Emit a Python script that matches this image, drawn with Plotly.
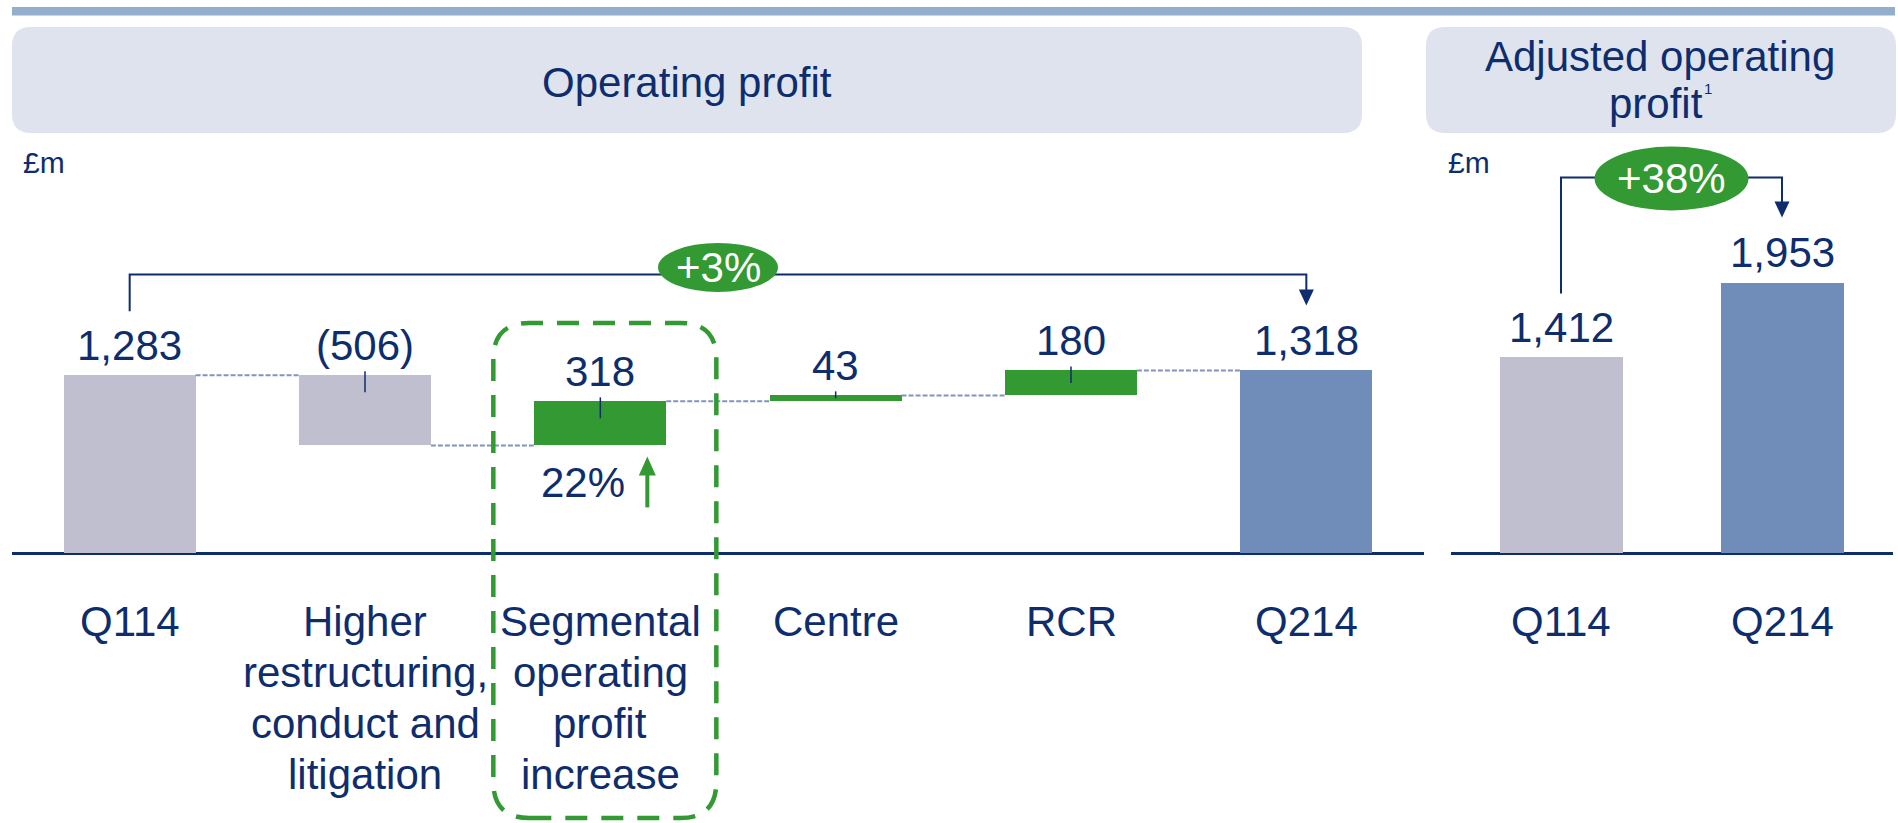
import plotly.graph_objects as go

W, H = 1898, 823

# ---------------- data ----------------
categories = ["Q114", "Higher\nrestructuring,\nconduct and\nlitigation",
              "Segmental\noperating\nprofit\nincrease", "Centre", "RCR", "Q214"]
measures = ["absolute", "relative", "relative", "relative", "relative", "total"]
values = [1283, -506, 318, 43, 180, 1318]
bar_colors = ["#C0BFD0", "#C0BFD0", "#339933", "#339933", "#339933", "#6F8DB8"]

adj_categories = ["Q114", "Q214"]
adj_values = [1412, 1953]
adj_colors = ["#C0BFD0", "#6F8DB8"]

change_total = "+3%"
change_adj = "+38%"
segmental_growth = "22%"
highlight_index = 2
title_left = "Operating profit"
title_right = ["Adjusted operating", "profit"]
footnote_mark = "1"
unit_label = "£m"

# ---------------- style ----------------
NAVY = "#0E2D6D"
GREEN = "#339933"
FONT = "Liberation Sans, Arial, sans-serif"
FS = 42
SCALE = 0.1385          # px per £m
ZERO_PX = 553
BAR_W = 0.56
y_range = [-(H - ZERO_PX) / SCALE, ZERO_PX / SCALE]


def px_to_val(p):
    return p / SCALE


def fmt(v):
    s = f"{abs(v):,}"
    return f"({s})" if v < 0 else s


def px(x):
    return x / W


def py(y):
    return 1 - y / H


# waterfall geometry
bases, heights, tops, levels = [], [], [], []
running = 0
for m, v in zip(measures, values):
    if m in ("absolute", "total"):
        base, h, running = 0, v, v
    else:
        base, h = min(running, running + v), abs(v)
        running += v
    bases.append(base)
    heights.append(h)
    tops.append(base + h)
    levels.append(running)

fig = go.Figure()
fig.add_trace(go.Bar(x=list(range(len(categories))), y=heights, base=bases,
                     marker=dict(color=bar_colors, line=dict(width=0)),
                     width=BAR_W, xaxis="x", yaxis="y", hoverinfo="skip"))
fig.add_trace(go.Bar(x=list(range(len(adj_categories))), y=adj_values,
                     marker=dict(color=adj_colors, line=dict(width=0)),
                     width=BAR_W, xaxis="x2", yaxis="y2", hoverinfo="skip"))

shapes = []
ann = []


def text(t, x, y, xref, yref, size=FS, color=NAVY, **kw):
    d = dict(text=t, x=x, y=y, xref=xref, yref=yref, showarrow=False,
             font=dict(family=FONT, size=size, color=color),
             xanchor=kw.pop("xanchor", "center"), yanchor=kw.pop("yanchor", "middle"))
    d.update(kw)
    ann.append(d)


def rounded(x0, y0, x1, y1, r, conv_x, conv_y):
    """Rounded rectangle; y0->y1 direction given by sign, r applied toward interior."""
    sy = 1 if y1 > y0 else -1
    pts = [("M", x0 + r, y0), ("L", x1 - r, y0), ("Q", x1, y0, x1, y0 + sy * r),
           ("L", x1, y1 - sy * r), ("Q", x1, y1, x1 - r, y1), ("L", x0 + r, y1),
           ("Q", x0, y1, x0, y1 - sy * r), ("L", x0, y0 + sy * r), ("Q", x0, y0, x0 + r, y0)]
    out = []
    for p in pts:
        nums = p[1:]
        seg = [f"{conv_x(nums[k]):.5f},{conv_y(nums[k + 1]):.5f}" for k in range(0, len(nums), 2)]
        out.append(p[0] + " " + " ".join(seg))
    return " ".join(out) + " Z"


# top rule
shapes.append(dict(type="rect", xref="paper", yref="paper", x0=px(12), x1=px(1895),
                   y0=py(15.5), y1=py(7), fillcolor="#94AFCB", line=dict(width=0), layer="below"))
# header boxes
for (bx0, bx1) in [(12, 1362), (1426, 1896)]:
    shapes.append(dict(type="path", xref="paper", yref="paper",
                       path=rounded(bx0, 27, bx1, 133, 19, px, py),
                       fillcolor="#DEE3ED", line=dict(width=0), layer="below"))
text(title_left, px(687), py(82), "paper", "paper")
text(title_right[0], px(1660), py(56), "paper", "paper")
text(title_right[1], px(1656), py(104), "paper", "paper")
text(footnote_mark, px(1708), py(89), "paper", "paper", size=15)
text(unit_label, px(21), py(162), "paper", "paper", size=30, xanchor="left")
text(unit_label, px(1446), py(162), "paper", "paper", size=30, xanchor="left")

# value labels and category labels
for i, v in enumerate(values):
    text(fmt(v), i, tops[i], "x", "y", yshift=30)
    for j, line in enumerate(categories[i].split("\n")):
        text(line, i, py(621 + 51 * j), "x", "paper")
for i, v in enumerate(adj_values):
    text(fmt(v), i, v, "x2", "y2", yshift=30)
    text(adj_categories[i], i, py(621), "x2", "paper")

# connectors
for i in range(len(values) - 1):
    shapes.append(dict(type="line", xref="x", yref="y", x0=i + BAR_W / 2, x1=i + 1 - BAR_W / 2,
                       y0=levels[i], y1=levels[i],
                       line=dict(color="#8094BC", width=2, dash="5px,2px")))
# small ticks on floating bars
for i, m in enumerate(measures):
    if m == "relative":
        down = min(17, heights[i] * SCALE / 2)
        shapes.append(dict(type="line", xref="x", yref="y", ysizemode="pixel", yanchor=tops[i],
                           x0=i, x1=i, y0=4, y1=-down, line=dict(color=NAVY, width=1.5)))


def bracket(xref, yref, i0, top0, i1, top1, level_px, ell_px, rx, ry, label):
    hi = max(top0, top1)
    ys = top0 + px_to_val(64)
    yl = hi + px_to_val(level_px)
    yt = top1 + px_to_val(80)
    shapes.append(dict(type="path", xref=xref, yref=yref,
                       path=f"M {i0},{ys} L {i0},{yl} L {i1},{yl} L {i1},{yt}",
                       line=dict(color=NAVY, width=2)))
    shapes.append(dict(type="path", xref=xref, yref=yref, xsizemode="pixel", ysizemode="pixel",
                       xanchor=i1, yanchor=top1 + px_to_val(65),
                       path="M -7.5,16 L 7.5,16 L 0,0 Z", fillcolor=NAVY, line=dict(width=0)))
    cx = (i0 + i1) / 2
    cy = hi + px_to_val(ell_px)
    shapes.append(dict(type="circle", xref=xref, yref=yref, xsizemode="pixel", ysizemode="pixel",
                       xanchor=cx, yanchor=cy, x0=-rx, x1=rx, y0=-ry, y1=ry,
                       fillcolor=GREEN, line=dict(width=0)))
    text(label, cx, cy, xref, yref, color="white")


bracket("x", "y", 0, tops[0], len(values) - 1, tops[-1], 96, 103, 60, 24.5, change_total)
bracket("x2", "y2", 0, adj_values[0], 1, adj_values[1], 105, 104, 77, 32, change_adj)

# highlight box around segmental (pixels relative to bar centre / baseline, y up)
hb = highlight_index
shapes.append(dict(type="path", xref="x", yref="y", xsizemode="pixel", ysizemode="pixel",
                   xanchor=hb, yanchor=0,
                   path=rounded(-107, -265, 116, 230, 36, lambda a: a, lambda b: b),
                   line=dict(color=GREEN, width=4.5, dash="22px,14px")))
# growth annotation under segmental bar
text(segmental_growth, hb, bases[hb], "x", "y", xshift=-17, yshift=-37)
shapes.append(dict(type="line", xref="x", yref="y", xsizemode="pixel", ysizemode="pixel",
                   xanchor=hb, yanchor=bases[hb], x0=47, x1=47, y0=-62, y1=-28,
                   line=dict(color=GREEN, width=4)))
shapes.append(dict(type="path", xref="x", yref="y", xsizemode="pixel", ysizemode="pixel",
                   xanchor=hb, yanchor=bases[hb], path="M 38.5,-30 L 55.5,-30 L 47,-11 Z",
                   fillcolor=GREEN, line=dict(width=0)))

axis_common = dict(showgrid=False, showticklabels=False, ticks="", showline=False)
fig.update_layout(
    width=W, height=H, margin=dict(l=0, r=0, t=0, b=0),
    paper_bgcolor="white", plot_bgcolor="rgba(0,0,0,0)", showlegend=False,
    xaxis=dict(domain=[px(12), px(1424)], range=[-0.5, len(values) - 0.5], zeroline=False, **axis_common),
    xaxis2=dict(domain=[px(1450.5), px(1892.5)], range=[-0.5, len(adj_values) - 0.5], anchor="y2",
                zeroline=False, **axis_common),
    yaxis=dict(domain=[0, 1], range=y_range, zeroline=True, zerolinecolor=NAVY, zerolinewidth=2.5,
               anchor="x", **axis_common),
    yaxis2=dict(domain=[0, 1], range=y_range, zeroline=True, zerolinecolor=NAVY, zerolinewidth=2.5,
                anchor="x2", **axis_common),
    shapes=shapes, annotations=ann, bargap=0,
)
fig.write_html("out.html", config={"displayModeBar": False},
               post_script="document.body.style.margin='0px';document.body.style.overflow='hidden';")
